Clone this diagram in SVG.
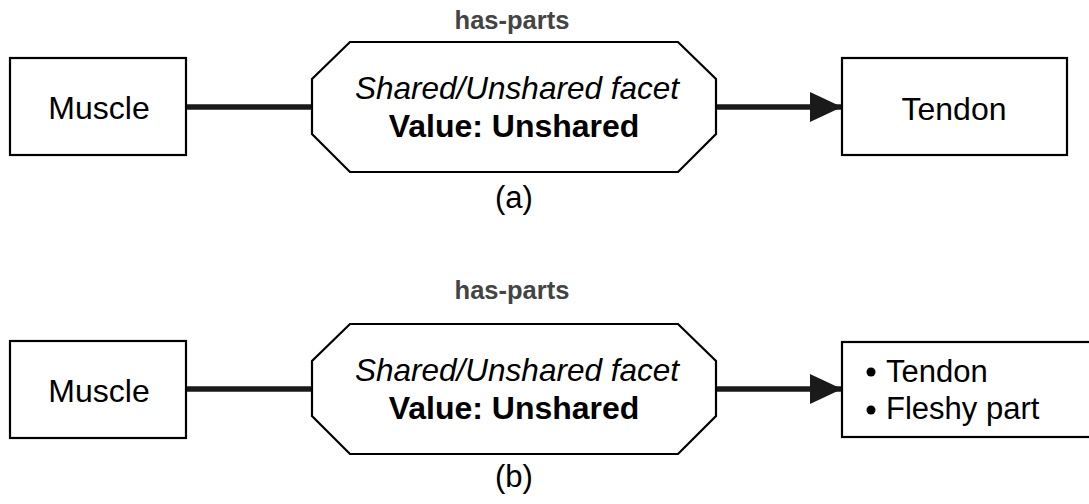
<svg xmlns="http://www.w3.org/2000/svg" width="1089" height="504" viewBox="0 0 1089 504">
<defs>
<style>
.box{fill:#fff;stroke:#000;stroke-width:2.2}
.oct{fill:#fff;stroke:#000;stroke-width:2.2}
.conn{stroke:#1a1a1a;stroke-width:5.5;fill:none}
.t{font-family:"Liberation Sans",Arial,sans-serif;fill:#000}
.lbl{font-family:"Liberation Sans",Arial,sans-serif;font-weight:bold;font-size:25.5px;fill:#444}
.it{font-family:"Liberation Sans",Arial,sans-serif;font-style:italic;font-size:31.5px;fill:#000}
.bd{font-family:"Liberation Sans",Arial,sans-serif;font-weight:bold;font-size:32px;fill:#000}
</style>
<marker id="arr" markerUnits="userSpaceOnUse" markerWidth="32" markerHeight="30" refX="32" refY="15" orient="auto">
<path d="M0,0 L32,15 L0,30 Z" fill="#1a1a1a"/>
</marker>
</defs>
<rect width="1089" height="504" fill="#fff"/>
<g id="connectors">
<line class="conn" x1="186" y1="107" x2="312" y2="107"/>
<line class="conn" x1="716" y1="107" x2="842" y2="107" marker-end="url(#arr)"/>
<line class="conn" x1="186" y1="389" x2="312" y2="389"/>
<line class="conn" x1="716" y1="389" x2="842" y2="389" marker-end="url(#arr)"/>
</g>
<g id="muscle-a">
<rect class="box" x="10" y="58" width="176" height="97"/>
<text class="t" x="99" y="119" font-size="32" text-anchor="middle">Muscle</text>
</g>
<g id="facet-a">
<text class="lbl" x="512" y="29" text-anchor="middle">has-parts</text>
<polygon class="oct" points="350,42 678,42 716,79 716,134 678,172 350,172 312,134 312,79"/>
<text class="it" x="517" y="99" text-anchor="middle">Shared/Unshared facet</text>
<text class="bd" x="514" y="137" text-anchor="middle">Value: Unshared</text>
</g>
<g id="tendon-a">
<rect class="box" x="842" y="58" width="225" height="97"/>
<text class="t" x="954" y="120" font-size="32" text-anchor="middle">Tendon</text>
</g>
<text id="caption-a" class="t" x="514" y="208" font-size="31" text-anchor="middle">(a)</text>
<g id="muscle-b">
<rect class="box" x="10" y="341" width="176" height="97"/>
<text class="t" x="99" y="402" font-size="32" text-anchor="middle">Muscle</text>
</g>
<g id="facet-b">
<text class="lbl" x="512" y="299" text-anchor="middle">has-parts</text>
<polygon class="oct" points="350,324 678,324 716,361 716,416 678,454 350,454 312,416 312,361"/>
<text class="it" x="517" y="381" text-anchor="middle">Shared/Unshared facet</text>
<text class="bd" x="514" y="419" text-anchor="middle">Value: Unshared</text>
</g>
<g id="parts-b">
<rect class="box" x="842" y="342" width="250" height="95"/>
<circle cx="871" cy="372" r="4.5" fill="#000"/>
<circle cx="871" cy="410" r="4.5" fill="#000"/>
<text class="t" x="886" y="382" font-size="31">Tendon</text>
<text class="t" x="886" y="419" font-size="31">Fleshy part</text>
</g>
<text id="caption-b" class="t" x="514" y="487" font-size="31" text-anchor="middle">(b)</text>
</svg>
